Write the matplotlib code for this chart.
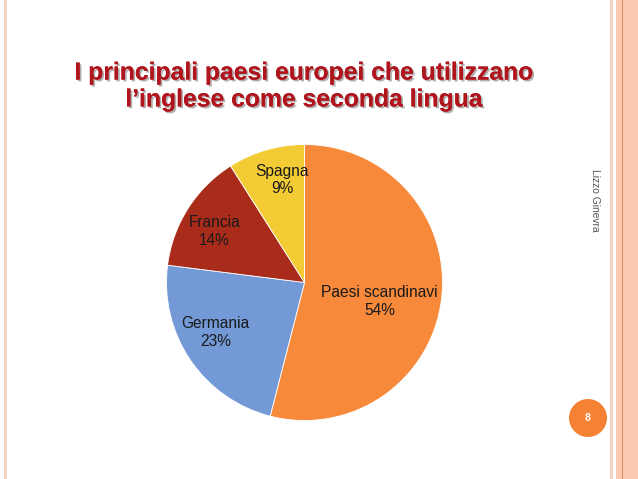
import matplotlib.pyplot as plt
import matplotlib.patheffects as pe
from matplotlib.patches import Circle, Rectangle
import numpy as np

# Data
paesi = ['Paesi scandinavi', 'Germania', 'Francia', 'Spagna']
quote = [54, 23, 14, 9]
colori = ['#F7893B', '#7399D6', '#A92B1A', '#F3CB34']
title = "I principali paesi europei che utilizzano\nl\u2019inglese come seconda lingua"

plt.rcParams['font.family'] = ['Liberation Sans', 'DejaVu Sans']

W, H = 638, 479
fig = plt.figure(figsize=(W / 100, H / 100), dpi=100)
fig.patch.set_facecolor('white')

# background axes in pixel coordinates for slide decorations
bg = fig.add_axes([0, 0, 1, 1])
bg.set_xlim(0, W)
bg.set_ylim(H, 0)
bg.axis('off')

# left border line
bg.add_patch(Rectangle((3.5, 0), 3, H, color='#F5D2C3', lw=0))
# right border
bg.add_patch(Rectangle((610, 0), 3, H, color='#F3D3C6', lw=0))
bg.add_patch(Rectangle((616, 0), 22, H, color='#FDC9B1', lw=0))
bg.add_patch(Rectangle((621.5, 0), 1.2, H, color='#E08A6A', lw=0))

# title with shadow
bg.text(304, 86, title, ha='center', va='center', fontsize=17.8,
        fontweight='bold', color='#B0141C', linespacing=1.15,
        path_effects=[pe.withSimplePatchShadow(offset=(1.3, -1.3),
                                               shadow_rgbFace='#555555', alpha=0.45),
                      pe.Normal()])

# author, rotated
bg.text(595, 200, 'Lizzo Ginevra', rotation=-90, ha='center', va='center',
        fontsize=7.4, color='#555555')

# page number
bg.add_patch(Circle((588, 418), 19, color='#F58232', lw=0))
bg.text(588, 418, '8', ha='center', va='center', fontsize=7.5,
        fontweight='bold', color='white')

# pie
cx, cy, r = 304.5, 282.5, 138
ax = fig.add_axes([(cx - r) / W, (H - cy - r) / H, 2 * r / W, 2 * r / H])
wedges, _ = ax.pie(quote, colors=colori, startangle=90, counterclock=False,
                   wedgeprops=dict(edgecolor='white', linewidth=0.6))
ax.set_xlim(-1, 1)
ax.set_ylim(-1, 1)
ax.set_aspect('equal')
ax.axis('off')

# labels inside the wedges
dist = [0.56, 0.74, 0.75, 0.76]
shift = [-7, -5, 3, -4]
for w, nome, q, d, s in zip(wedges, paesi, quote, dist, shift):
    ang = np.deg2rad((w.theta1 + w.theta2) / 2 + s)
    ax.text(d * np.cos(ang), d * np.sin(ang), f'{nome}\n{q}%', ha='center',
            va='center', fontsize=11.2, color='#1a1a1a', linespacing=1.2)

fig.savefig('out.png', dpi=100)
